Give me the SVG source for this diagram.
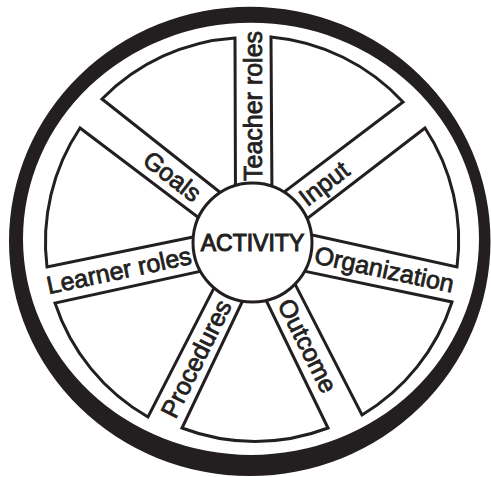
<svg xmlns="http://www.w3.org/2000/svg" width="491" height="477" viewBox="0 0 491 477">
  <style>
    .sector { fill: #ffffff; stroke: #231f20; stroke-width: 3; stroke-linejoin: miter; }
    .hub { fill: #ffffff; stroke: #231f20; stroke-width: 3; }
    .rim { fill: #231f20; fill-rule: evenodd; }
    .lbl { font-family: "Liberation Sans", Arial, sans-serif; font-size: 25px; fill: #231f20; stroke: #231f20; stroke-width: 0.8; }
    .hubtxt { font-family: "Liberation Sans", Arial, sans-serif; font-size: 23px; fill: #231f20; stroke: #231f20; stroke-width: 1.1; text-anchor: middle; }
  </style>
  <rect width="491" height="477" fill="#ffffff"/>
  <g id="rim">
    <path class="rim" d="M9,241.35 A240.75,234.65 0 1 0 490.5,241.35 A240.75,234.65 0 1 0 9,241.35 Z M23,238.85 A228,216.15 0 1 0 479,238.85 A228,216.15 0 1 0 23,238.85 Z"/>
  </g>
  <g id="connectors">
    <path class="sector" d="M102,99 A205,205 0 0 1 235,38 L235.5,200 L228.8,199.3 Z"/>
    <path class="sector" d="M271,37 A205,205 0 0 1 403,102 L275,199 L272,200 Z"/>
    <path class="sector" d="M425,128 A205,205 0 0 1 457,267 L297.4,231.8 L296.1,227.1 Z"/>
    <path class="sector" d="M452,302 A205,205 0 0 1 362,415 L290.2,274.6 L293.3,268.9 Z"/>
    <path class="sector" d="M328,428 A205,205 0 0 1 182,428 L248.5,288.5 L260.4,288.5 Z"/>
    <path class="sector" d="M148,417 A205,205 0 0 1 55,303 L211.7,268.8 L219.8,276.6 Z"/>
    <path class="sector" d="M47,267 A205,205 0 0 1 80,128 L207,224 L207.7,234 Z"/>
  </g>
  <g id="activity">
    <circle class="hub" cx="252.5" cy="242.5" r="59.5"/>
    <text class="hubtxt" x="252.5" y="251">ACTIVITY</text>
  </g>
  <g id="teacher-roles" transform="translate(253,181) rotate(-90)">
    <text class="lbl" x="0" y="8.5" font-size="24">Teacher roles</text>
  </g>
  <g id="input" transform="translate(302,200.5) rotate(-37.4)">
    <text class="lbl" x="0" y="8.5">Input</text>
  </g>
  <g id="organization" transform="translate(315,254.6) rotate(12.1)">
    <text class="lbl" x="0" y="8.5">Organization</text>
  </g>
  <g id="outcome" transform="translate(284.7,300.4) rotate(63.4)">
    <text class="lbl" x="0" y="8.5">Outcome</text>
  </g>
  <g id="procedures" transform="translate(224.8,301.4) rotate(-63.6)">
    <text class="lbl" x="0" y="8.5" text-anchor="end">Procedures</text>
  </g>
  <g id="learner-roles" transform="translate(191,255.3) rotate(-12)">
    <text class="lbl" x="0" y="8.5" text-anchor="end">Learner roles</text>
  </g>
  <g id="goals" transform="translate(198,196.4) rotate(37.7)">
    <text class="lbl" x="0" y="8.5" text-anchor="end">Goals</text>
  </g>
</svg>
